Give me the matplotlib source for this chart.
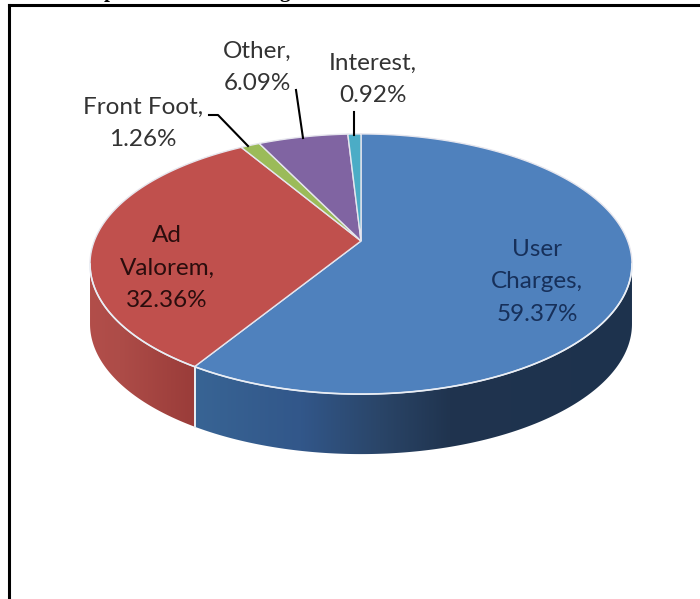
import numpy as np
import matplotlib
matplotlib.use('Agg')
import matplotlib.pyplot as plt
from matplotlib.colors import LinearSegmentedColormap

# Data, clockwise from 12 o'clock
categories = ['User Charges', 'Ad Valorem', 'Front Foot', 'Other', 'Interest']
shares = [59.37, 32.36, 1.26, 6.09, 0.92]
label_names = ['User\nCharges', 'Ad\nValorem', 'Front Foot', 'Other', 'Interest']

# Styles
top_colors = ['#4f81bd', '#c0504d', '#9bbb59', '#8064a2', '#4bacc6']
text_colors = ['#17305a', '#2a0d0d', '#333333', '#333333', '#333333']
side_stops = {
    0: ([195, 300, 380, 450, 632], ['#386494', '#32578a', '#2a4568', '#20344f', '#1d324d']),
    1: ([90, 120, 195], ['#b24e4a', '#ad4c48', '#9a3c39']),
}
label_pos = [(537, 282), (167, 268), (143, 123), (257, 67), (373, 79)]

# Pie geometry in image pixels, perspective tilted disc
cx, cy = 361, 241
rx, ry = 266.7, 126
k = 0.177
depth = 60
skew = np.radians(5.5)


def project(theta):
    # theta is clockwise from the top, in radians
    w = 1 + k * np.cos(theta)
    return cx + rx * np.sin(theta) / w, cy - ry * np.cos(theta) / w


fig = plt.figure(figsize=(7.0, 5.99), dpi=100, facecolor='white')
ax = fig.add_axes([0, 0, 1, 1])
ax.axis('off')

edges = np.cumsum([0] + shares) / sum(shares) * 2 * np.pi
# small correction so the slice borders sit where the 3D view puts them
edges = edges - skew * np.sin(edges) ** 2
th_right = np.arccos(-k)
th_left = 2 * np.pi - th_right

# Side wall, horizontal gradient clipped to the wall shape
for i in side_stops:
    a = max(edges[i], th_right)
    b = min(edges[i + 1], th_left)
    ts = np.linspace(a, b, 300)
    xs, ys = project(ts)
    stop_x, stop_c = side_stops[i]
    span = (stop_x[-1] - stop_x[0])
    cmap = LinearSegmentedColormap.from_list(
        'wall', [((x - stop_x[0]) / span, c) for x, c in zip(stop_x, stop_c)])
    grad = np.linspace(0, 1, 512).reshape(1, -1)
    im = ax.imshow(grad, cmap=cmap, aspect='auto', zorder=2,
                   extent=(stop_x[0], stop_x[-1], 470, 240))
    poly = ax.fill(np.r_[xs, xs[::-1]], np.r_[ys, ys[::-1] + depth],
                   facecolor='none', edgecolor='none', zorder=1)[0]
    im.set_clip_path(poly)

ax.set_xlim(0, 700)
ax.set_ylim(599, 0)

# White seam between the two visible walls
sx, sy = project(edges[1])
ax.plot([sx, sx], [sy, sy + depth], color='#e8eef4', lw=1.4, zorder=3)

# Top surface
for i, share in enumerate(shares):
    ts = np.linspace(edges[i], edges[i + 1], 200)
    xs, ys = project(ts)
    ax.fill(np.r_[cx, xs], np.r_[cy, ys], facecolor=top_colors[i],
            edgecolor='#e6e6ee', lw=1.0, zorder=4)

# Bright rim along the front
ts = np.linspace(th_right, th_left, 300)
xs, ys = project(ts)
ax.plot(xs, ys, color='#e9eef5', lw=1.2, zorder=5)

# Leader lines
ax.plot([209, 218, 248], [115, 115, 146], color='black', lw=1.5, zorder=6)
ax.plot([296, 303], [90, 138], color='black', lw=1.5, zorder=6)
ax.plot([354, 354], [112, 135], color='black', lw=1.5, zorder=6)

# Data labels
for i, name in enumerate(label_names):
    x, y = label_pos[i]
    ax.text(x, y, f'{name},\n{shares[i]:.2f}%', ha='center', va='center',
            fontsize=17.5, family='Lato', color=text_colors[i],
            linespacing=1.66, zorder=7)

# Box around the chart, only top and left show
ax.plot([9, 9], [599, 5], color='black', lw=2.2, zorder=8, solid_capstyle='projecting')
ax.plot([9, 700], [5, 5], color='black', lw=2.2, zorder=8, solid_capstyle='projecting')

# Title is cut off by the image edge, only the descenders are left
ax.text(110, -3, 'p', ha='center', va='baseline', fontsize=15, family='Liberation Serif',
        weight='bold', color='black', zorder=8, clip_on=True)
ax.text(285, -3, 'g', ha='center', va='baseline', fontsize=15, family='Liberation Serif',
        weight='bold', color='black', zorder=8, clip_on=True)

fig.savefig('out.png', dpi=100, facecolor='white')
